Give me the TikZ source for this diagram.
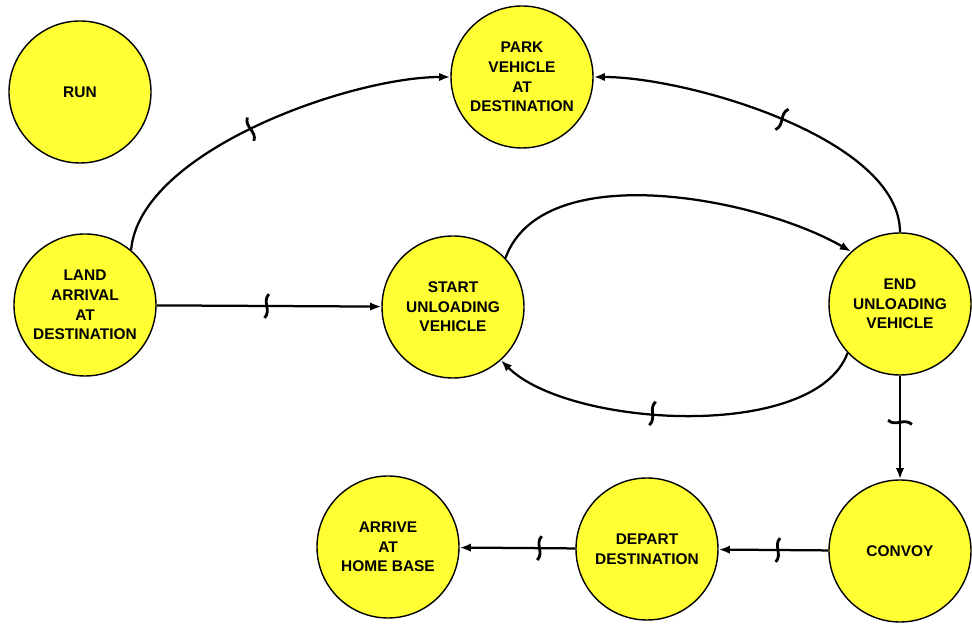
\documentclass[tikz,border=0pt]{standalone}
\usepackage{fontspec}
\setmainfont{Liberation Sans}
\usetikzlibrary{arrows.meta,decorations.markings}
\definecolor{stateyellow}{RGB}{255,255,51}
\tikzset{brk/.style={postaction={decorate},
    decoration={markings,mark=at position #1 with
      {\draw[-,line width=2pt] (1.5pt,8.5pt) .. controls (-3.5pt,3pt) and (3.5pt,-3pt) .. (-1.5pt,-8.5pt);}}}}

\begin{document}
\begin{tikzpicture}
\useasboundingbox (0,0) rectangle (24.3,15.625);
\begin{scope}[every node/.style={circle,draw,line width=1pt,fill=stateyellow,
    minimum size=3.55cm,inner sep=0pt,align=center,
    font=\fontsize{11}{14}\selectfont\bfseries}]
    \node (R) at (2.0,13.325) {RUN};
    \node (P) at (13.05,13.7) {PARK\\VEHICLE\\AT\\DESTINATION};
    \node (L) at (2.125,8.0) {LAND\\ARRIVAL\\AT\\DESTINATION};
    \node (S) at (11.325,7.95) {START\\UNLOADING\\VEHICLE};
    \node (E) at (22.5,8.025) {END\\UNLOADING\\VEHICLE};
    \node (C) at (22.5,1.85) {CONVOY};
    \node (D) at (16.175,1.9) {DEPART\\DESTINATION};
    \node (H) at (9.7,1.95) {ARRIVE\\AT\\HOME BASE};
\end{scope}
\begin{scope}[>={Latex[length=8pt,width=6pt]},
              every edge/.style={draw,line width=1.6pt}]
    \path [->] (L.50) edge[out=85,in=180,looseness=0.7,brk=0.46] (P.west);
    \path [->] (E.north) edge[out=90,in=0,looseness=0.7,brk=0.47] (P.east);
    \path [->] (S.43) edge[out=70,in=150,looseness=0.8] (E.133);
    \path [->] (E.223) edge[out=250,in=315,looseness=0.7,brk=0.57] (S.312);
    \path [->] (L) edge[brk=0.49] (S);
    \path [->] (E) edge[brk=0.45] (C);
    \path [->] (C) edge[brk=0.46] (D);
    \path [->] (D) edge[brk=0.31] (H);
\end{scope}
\end{tikzpicture}
\end{document}
